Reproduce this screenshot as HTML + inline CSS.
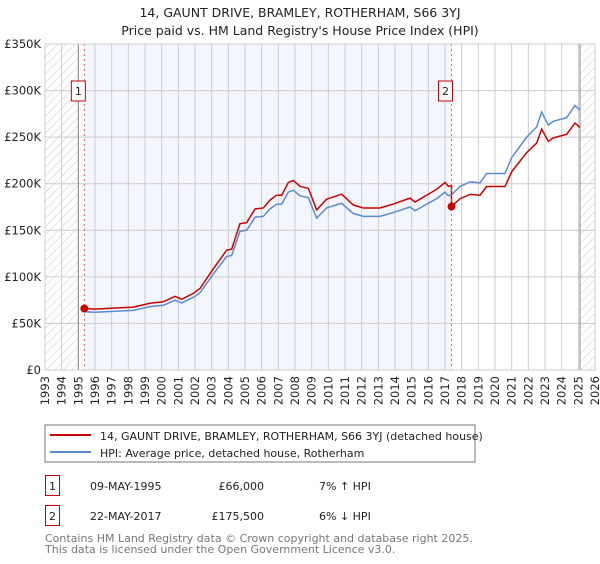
<!DOCTYPE html>
<html><head><meta charset="utf-8"><style>
body{margin:0;background:#fff;font-family:"DejaVu Sans","Liberation Sans",sans-serif;}
svg text{font-family:"DejaVu Sans","Liberation Sans",sans-serif;}
</style></head><body>
<svg width="600" height="560" viewBox="0 0 600 560">
<defs><pattern id="hatch" patternUnits="userSpaceOnUse" width="6" height="6" patternTransform="rotate(45)"><line x1="0" y1="0" x2="0" y2="6" stroke="#ccc" stroke-width="1"/></pattern></defs>
<text x="300" y="17" text-anchor="middle" font-size="12.5" fill="#222">14, GAUNT DRIVE, BRAMLEY, ROTHERHAM, S66 3YJ</text>
<text x="300" y="35" text-anchor="middle" font-size="12.5" fill="#222">Price paid vs. HM Land Registry's House Price Index (HPI)</text>
<g id="plot"></g>
<rect x="45" y="425" width="430" height="37" fill="#fff" stroke="#777"/>
<line x1="50" y1="435" x2="91" y2="435" stroke="#cc0000" stroke-width="2"/>
<text x="100" y="440" font-size="11" fill="#222">14, GAUNT DRIVE, BRAMLEY, ROTHERHAM, S66 3YJ (detached house)</text>
<line x1="50" y1="452" x2="91" y2="452" stroke="#5b8bd0" stroke-width="2"/>
<text x="100" y="457" font-size="11" fill="#222">HPI: Average price, detached house, Rotherham</text>
<g>
<rect x="45.5" y="475.5" width="14" height="20" fill="#fff" stroke="#cc0000"/>
<text x="52.5" y="490" text-anchor="middle" font-size="11" fill="#222">1</text>
<text x="90" y="490" font-size="11" fill="#222">09-MAY-1995</text>
<text x="264" y="490" text-anchor="end" font-size="11" fill="#222">£66,000</text>
<text x="319" y="490" font-size="11" fill="#222">7% ↑ HPI</text>
</g>
<g>
<rect x="45.5" y="505.5" width="14" height="20" fill="#fff" stroke="#cc0000"/>
<text x="52.5" y="520" text-anchor="middle" font-size="11" fill="#222">2</text>
<text x="90" y="520" font-size="11" fill="#222">22-MAY-2017</text>
<text x="264" y="520" text-anchor="end" font-size="11" fill="#222">£175,500</text>
<text x="319" y="520" font-size="11" fill="#222">6% ↓ HPI</text>
</g>
<text x="45" y="542" font-size="11" fill="#777">Contains HM Land Registry data © Crown copyright and database right 2025.</text>
<text x="45" y="553" font-size="11" fill="#777">This data is licensed under the Open Government Licence v3.0.</text>
</svg>
<script>
const hpiYears=[1995.36,1996,1997.1,1998.3,1999.3,2000.1,2000.8,2001.2,2001.9,2002.3,2003.1,2003.9,2004.2,2004.7,2005.1,2005.6,2006.1,2006.5,2006.9,2007.2,2007.6,2007.9,2008.3,2008.8,2009.3,2009.9,2010.8,2011.5,2012.1,2013.1,2013.9,2014.9,2015.2,2016,2016.5,2017,2017.2,2017.39,2017.9,2018.5,2019.1,2019.5,2020.3,2020.6,2021,2021.9,2022.5,2022.8,2023.2,2023.5,2024.3,2024.8,2025.1];
const hpiValues=[62.6,62,63,64,68,69.5,75,72,78,83,103,122,123,149,150,164,165,173,178,178,191,193,187,185,163,174,179,168,165,165,169,175,171,179,184,191,187,188,197,202,201,211,211,211,228,250,261,277,263,267,271,284,279];
const saleYears=[1995.36,2017.39];
const salePrices=[66,175.5];
const saleLabels=["1","2"];
const yTicks=[0,50,100,150,200,250,300,350];
const yTickLabels=["£0","£50K","£100K","£150K","£200K","£250K","£300K","£350K"];
const xYears=[];for(let y=1993;y<=2026;y++)xYears.push(y);
const X0=45,X1=595,Y0=370,Y1=44;
const sx=y=>X0+(y-1993)*(X1-X0)/33;
const sy=v=>Y0-v*(Y0-Y1)/350;
const NS="http://www.w3.org/2000/svg";
const g=document.getElementById('plot');
function mk(t,a,p){const e=document.createElementNS(NS,t);for(const k in a)e.setAttribute(k,a[k]);(p||g).appendChild(e);return e;}
let e;
e=mk('rect',{x:X0,y:Y1,width:X1-X0,height:Y0-Y1,fill:'#fff'});


e=mk('rect',{x:sx(saleYears[0]),y:Y1,width:sx(saleYears[1])-sx(saleYears[0]),height:Y0-Y1,fill:'#f3f6fd'});


e=mk('rect',{x:X0,y:Y1,width:sx(1995)-X0,height:Y0-Y1,fill:'url(#hatch)'});


e=mk('rect',{x:sx(2025.1),y:Y1,width:X1-sx(2025.1),height:Y0-Y1,fill:'url(#hatch)'});


xYears.forEach(y=>{const l=mk('line',{x1:sx(y),x2:sx(y),y1:Y1,y2:Y0,stroke:'#ccc','stroke-width':1});


const t=mk('text',{x:0,y:0,'font-size':11.5,fill:'#222','text-anchor':'end',transform:`translate(${sx(y)+4},${Y0+6}) rotate(-90)`});t.textContent=y;

});
yTicks.forEach((v,i)=>{const l=mk('line',{x1:X0,x2:X1,y1:sy(v),y2:sy(v),stroke:'#ccc','stroke-width':1});


const t=mk('text',{x:X0-4,y:sy(v)+4,'font-size':11.5,fill:'#222','text-anchor':'end'});t.textContent=yTickLabels[i];

});
e=mk('line',{x1:sx(1995),x2:sx(1995),y1:Y1,y2:Y0,stroke:'#888','stroke-width':1});


e=mk('line',{x1:sx(2025.1),x2:sx(2025.1),y1:Y1,y2:Y0,stroke:'#888','stroke-width':1});


function hpiAt(y){for(let i=0;i<hpiYears.length-1;i++){if(y<=hpiYears[i+1]){const f=(y-hpiYears[i])/(hpiYears[i+1]-hpiYears[i]);return hpiValues[i]+f*(hpiValues[i+1]-hpiValues[i]);}}return hpiValues[hpiValues.length-1];}
const f1=salePrices[0]/hpiAt(saleYears[0]),f2=salePrices[1]/hpiAt(saleYears[1]);
const bluePts=hpiYears.map((y,i)=>sx(y)+','+sy(hpiValues[i]));
e=mk('polyline',{points:bluePts.join(' '),fill:'none',stroke:'#5b8bd0','stroke-width':1.5});


const redPts=[];
hpiYears.forEach((y,i)=>{if(y<saleYears[1])redPts.push(sx(y)+','+sy(hpiValues[i]*f1));});
redPts.push(sx(saleYears[1])+','+sy(hpiAt(saleYears[1])*f1));
redPts.push(sx(saleYears[1])+','+sy(salePrices[1]));
hpiYears.forEach((y,i)=>{if(y>saleYears[1])redPts.push(sx(y)+','+sy(hpiValues[i]*f2));});
e=mk('polyline',{points:redPts.join(' '),fill:'none',stroke:'#cc0000','stroke-width':1.5});


saleYears.forEach((y,i)=>{
const l=mk('line',{x1:sx(y),x2:sx(y),y1:Y1,y2:Y0,stroke:'#f06060','stroke-width':1,'stroke-dasharray':'2,3'});


const c=mk('circle',{cx:sx(y),cy:sy(salePrices[i]),r:4,fill:'#cc0000'});


const r=mk('rect',{x:sx(y)-13,y:81,width:14,height:20,fill:'#fff',stroke:'#cc0000'});


const t=mk('text',{x:sx(y)-6,y:95,'font-size':11,fill:'#222','text-anchor':'middle'});t.textContent=saleLabels[i];


});
e=mk('rect',{x:X0,y:Y1,width:X1-X0,height:Y0-Y1,fill:'none',stroke:'#ccc'});


</script>
</body></html>
